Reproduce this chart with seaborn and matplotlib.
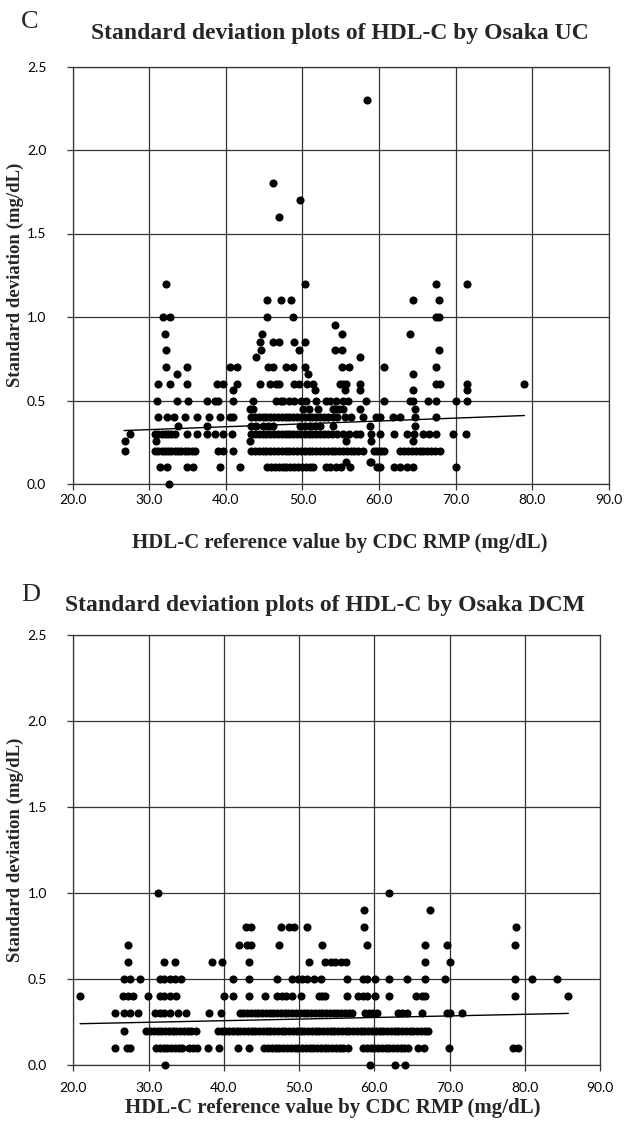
import numpy as np
import pandas as pd
import matplotlib
matplotlib.use("Agg")
import matplotlib.pyplot as plt
import seaborn as sns

# ---------------- data ----------------
x_ticks = [20, 30, 40, 50, 60, 70, 80, 90]
x_tick_labels = ["20.0", "30.0", "40.0", "50.0", "60.0", "70.0", "80.0", "90.0"]
y_ticks = [0.0, 0.5, 1.0, 1.5, 2.0, 2.5]
y_tick_labels = ["0.0", "0.5", "1.0", "1.5", "2.0", "2.5"]

# Panel C: Osaka UC -- reference values (x) grouped by SD level (y)
uc_00 = [32.6]
uc_01 = [31.4, 32.3, 34.9, 35.7, 39.3, 41.9, 45.4, 45.9, 46.4, 46.9, 47.4, 47.9, 48.4, 48.9,
         49.4, 50.0, 50.5, 51.0, 51.4, 53.1, 53.6, 54.4, 55.0, 56.2, 59.7, 60.1, 61.9, 62.8,
         63.6, 64.5, 70.1]
uc_013 = [55.7, 58.8, 59.0]
uc_02 = [26.8, 30.7, 31.2, 31.6, 32.1, 32.5, 32.9, 33.3, 33.8, 34.2, 34.7, 35.1, 35.6, 36.0,
         39.0, 39.6, 41.0, 43.3, 43.8, 44.3, 44.8, 45.3, 45.8, 46.3, 46.8, 47.3, 47.8, 48.3,
         48.8, 49.3, 49.8, 50.3, 50.8, 51.3, 51.8, 52.3, 52.8, 53.3, 53.8, 54.3, 54.8, 55.3,
         55.8, 56.3, 56.8, 57.3, 57.9, 59.3, 59.7, 60.2, 60.6, 62.8, 63.3, 63.8, 64.3, 64.8,
         65.3, 65.8, 66.3, 66.8, 67.3, 68.0]
uc_025 = [26.8, 30.9, 43.1, 55.7, 59.0, 64.5]
uc_03 = [27.5, 30.7, 31.2, 31.6, 32.1, 32.5, 32.9, 33.3, 34.9, 36.2, 37.5, 38.6, 39.6, 40.8,
         43.3, 43.8, 44.3, 44.8, 45.3, 45.8, 46.3, 46.8, 47.3, 47.8, 48.3, 48.8, 49.3, 49.8,
         50.3, 50.8, 51.3, 51.8, 52.3, 52.8, 53.3, 53.8, 54.5, 55.3, 56.1, 57.0, 57.5, 59.0,
         60.1, 62.0, 63.7, 64.6, 65.7, 66.5, 67.5, 69.7, 71.4]
uc_035 = [33.8, 37.5, 43.3, 44.0, 44.8, 45.5, 46.2, 49.7, 50.3, 51.0, 51.6, 52.3, 54.0, 58.8,
          64.7]
uc_04 = [31.2, 32.3, 33.2, 34.7, 36.2, 37.8, 39.3, 40.6, 41.0, 43.3, 43.8, 44.3, 44.8, 45.3,
         45.8, 46.3, 46.8, 47.3, 47.8, 48.3, 48.8, 49.3, 49.8, 50.3, 50.8, 51.3, 51.8, 52.3,
         52.8, 53.3, 54.0, 54.5, 55.5, 56.3, 57.9, 59.6, 60.1, 61.8, 62.7, 64.7, 67.5]
uc_045 = [43.2, 43.5, 50.1, 50.9, 52.0, 54.0, 54.2, 54.8, 55.3, 57.5, 64.7]
uc_05 = [31.0, 33.6, 35.1, 37.5, 38.6, 39.0, 41.0, 43.6, 46.6, 47.2, 47.5, 48.2, 48.9, 49.8,
         50.5, 51.8, 53.1, 53.6, 54.4, 55.3, 56.0, 58.3, 60.6, 64.1, 64.5, 66.4, 67.5, 70.1,
         71.5]
uc_055 = [41.0, 51.6, 55.5, 57.5, 64.5, 71.5]
uc_06 = [31.1, 32.7, 34.9, 38.8, 39.6, 41.5, 44.5, 45.8, 46.6, 47.0, 48.9, 49.5, 50.6, 51.4,
         54.9, 55.3, 55.7, 57.5, 67.5, 68.0, 71.5, 78.9]
uc_065 = [33.6, 50.7, 64.5]
uc_07 = [32.2, 34.9, 40.5, 41.5, 45.5, 46.1, 47.9, 48.8, 50.3, 55.2, 56.1, 60.6, 67.5]
uc_075 = [43.9, 57.5]
uc_08 = [32.2, 44.6, 49.6, 54.3, 55.2, 67.8]
uc_085 = [44.5, 46.1, 47.0, 48.9, 50.3]
uc_09 = [32.0, 44.7, 55.2, 64.1]
uc_095 = [54.2]
uc_10 = [31.8, 32.7, 45.4, 48.8, 67.5, 67.8]
uc_11 = [45.4, 47.2, 48.5, 64.5, 67.8]
uc_12 = [32.2, 50.3, 67.5, 71.5]
uc_16 = [46.9]
uc_17 = [49.7]
uc_18 = [46.2]
uc_23 = [58.5]
uc_trend_x = [26.7, 79.0]
uc_trend_y = [0.32, 0.41]

# Panel D: Osaka DCM
dcm_00 = [32.2, 59.4, 62.8, 64.1]
dcm_01 = [25.5, 27.1, 27.5, 31.0, 31.5, 32.0, 32.5, 33.0, 33.5, 34.0, 34.5, 35.4, 35.9, 36.5,
          37.9, 39.4, 41.9, 43.4, 45.4, 45.9, 46.4, 46.9, 47.4, 47.9, 48.4, 48.9, 49.4, 49.9,
          50.4, 50.9, 51.4, 51.9, 52.4, 52.9, 53.4, 53.9, 54.4, 54.9, 55.4, 55.9, 56.5, 58.5,
          59.0, 59.5, 60.0, 60.5, 61.0, 61.5, 62.0, 62.5, 63.0, 63.5, 64.0, 64.5, 65.8, 66.6,
          69.9, 78.5, 79.1]
dcm_02 = [26.8, 29.7, 30.2, 30.7, 31.2, 31.7, 32.2, 32.7, 33.2, 33.7, 34.2, 34.7, 35.2, 35.6,
          36.3, 39.2, 39.7, 40.2, 40.7, 41.2, 41.7, 42.2, 42.7, 43.2, 43.7, 44.2, 44.7, 45.2,
          45.7, 46.2, 46.7, 47.2, 47.7, 48.2, 48.7, 49.2, 49.7, 50.2, 50.7, 51.2, 51.7, 52.2,
          52.7, 53.2, 53.7, 54.2, 54.7, 55.2, 55.7, 56.2, 56.7, 57.2, 57.7, 58.2, 58.7, 59.2,
          59.7, 60.2, 60.7, 61.2, 61.7, 62.2, 62.7, 63.2, 63.7, 64.2, 64.7, 65.2, 65.7, 66.2,
          66.7, 67.2]
dcm_03 = [25.5, 26.8, 27.5, 28.6, 30.8, 31.5, 32.1, 32.8, 33.9, 35.0, 38.1, 39.6, 42.1, 42.6,
          43.1, 43.6, 44.1, 44.6, 45.1, 45.6, 46.1, 46.6, 47.1, 47.6, 48.1, 48.6, 49.1, 49.6,
          50.1, 50.6, 51.1, 51.6, 52.1, 52.6, 53.1, 53.6, 54.1, 54.6, 55.1, 55.6, 56.1, 56.6,
          57.1, 58.8, 59.3, 59.8, 60.4, 63.2, 63.7, 64.3, 66.3, 69.6, 70.0, 71.6]
dcm_04 = [20.9, 26.6, 27.3, 27.9, 29.9, 31.5, 32.1, 32.8, 33.7, 40.0, 41.2, 43.3, 45.5, 47.1,
          47.8, 48.3, 49.1, 50.3, 52.7, 53.1, 53.5, 56.4, 57.8, 58.5, 59.1, 60.1, 61.9, 65.6,
          66.3, 66.8, 78.7, 85.7]
dcm_05 = [26.8, 27.5, 28.8, 31.5, 32.1, 32.8, 33.5, 34.3, 41.2, 43.4, 47.1, 49.1, 49.8, 50.4,
          51.0, 52.0, 52.9, 56.4, 58.5, 59.0, 60.1, 61.9, 64.3, 66.7, 69.4, 78.7, 81.0, 84.3]
dcm_06 = [27.3, 32.0, 33.5, 38.5, 39.8, 43.3, 51.3, 53.5, 54.2, 54.8, 55.6, 56.3, 66.7, 70.0]
dcm_07 = [27.3, 42.0, 43.1, 43.6, 47.3, 53.1, 59.0, 66.7, 69.6, 78.7]
dcm_08 = [42.9, 43.6, 47.6, 48.7, 49.3, 51.1, 58.7, 78.8]
dcm_09 = [58.7, 67.4]
dcm_10 = [31.2, 61.9]
dcm_trend_x = [20.9, 85.8]
dcm_trend_y = [0.24, 0.30]

uc_levels = [(0.0, uc_00), (0.1, uc_01), (0.13, uc_013), (0.2, uc_02), (0.26, uc_025),
             (0.3, uc_03), (0.35, uc_035), (0.4, uc_04), (0.45, uc_045), (0.5, uc_05),
             (0.56, uc_055), (0.6, uc_06), (0.66, uc_065), (0.7, uc_07), (0.76, uc_075),
             (0.8, uc_08), (0.85, uc_085), (0.9, uc_09), (0.95, uc_095), (1.0, uc_10),
             (1.1, uc_11), (1.2, uc_12), (1.6, uc_16), (1.7, uc_17), (1.8, uc_18), (2.3, uc_23)]
dcm_levels = [(0.0, dcm_00), (0.1, dcm_01), (0.2, dcm_02), (0.3, dcm_03), (0.4, dcm_04),
              (0.5, dcm_05), (0.6, dcm_06), (0.7, dcm_07), (0.8, dcm_08), (0.9, dcm_09),
              (1.0, dcm_10)]

df_uc = pd.DataFrame([(x, sd) for sd, xs in uc_levels for x in xs], columns=["ref", "sd"])
df_dcm = pd.DataFrame([(x, sd) for sd, xs in dcm_levels for x in xs], columns=["ref", "sd"])
tr_uc = pd.DataFrame({"ref": uc_trend_x, "sd": uc_trend_y})
tr_dcm = pd.DataFrame({"ref": dcm_trend_x, "sd": dcm_trend_y})

# ---------------- figure ----------------
sns.set_theme(style="white")
plt.rcParams['font.family'] = ['Lato', 'DejaVu Sans']
SERIF = ['Liberation Serif', 'DejaVu Serif']

W, H = 624, 1127
fig = plt.figure(figsize=(W / 100, H / 100), dpi=100)


def px_ax(l, r, t, b):
    return [l / W, 1 - b / H, (r - l) / W, (b - t) / H]


ax1 = fig.add_axes(px_ax(72.7, 608.7, 66.5, 484))
ax2 = fig.add_axes(px_ax(73.3, 600.0, 635, 1065))

GRID = "#333333"
for ax, df, tr, xpad in ((ax1, df_uc, tr_uc, 3), (ax2, df_dcm, tr_dcm, 8)):
    sns.scatterplot(data=df, x="ref", y="sd", ax=ax, color="black", s=34,
                    linewidth=0, clip_on=False, zorder=3)
    sns.lineplot(data=tr, x="ref", y="sd", ax=ax, color="black", linewidth=1.0, zorder=4)
    ax.set_xlim(20, 90)
    ax.set_ylim(0, 2.5)
    ax.set_xticks(x_ticks)
    ax.set_xticklabels(x_tick_labels)
    ax.set_yticks(y_ticks)
    ax.set_yticklabels(y_tick_labels)
    ax.grid(True, color=GRID, linewidth=0.9)
    ax.set_axisbelow(True)
    for s in ax.spines.values():
        s.set_color(GRID)
        s.set_linewidth(0.9)
    ax.tick_params(axis="both", which="major", bottom=True, left=True, direction="out",
                   length=4, width=0.9, color=GRID, labelsize=10, labelcolor="black")
    ax.tick_params(axis="y", pad=15)
    ax.tick_params(axis="x", pad=xpad)
    ax.set_xlabel("")
    ax.set_ylabel("")


def ftext(x, y, s, **kw):
    fig.text(x / W, 1 - y / H, s, **kw)


ftext(30, 22, "C", fontsize=19, family=SERIF, ha="center", va="center")
ftext(340, 33, "Standard deviation plots of HDL-C by Osaka UC", fontsize=17,
      fontweight="bold", family=SERIF, ha="center", va="center")
ftext(15, 275, "Standard deviation (mg/dL)", fontsize=13.5, fontweight="bold",
      family=SERIF, rotation=90, ha="center", va="center")
ftext(340, 543, "HDL-C reference value by CDC RMP (mg/dL)", fontsize=15,
      fontweight="bold", family=SERIF, ha="center", va="center")

ftext(31, 595, "D", fontsize=19, family=SERIF, ha="center", va="center")
ftext(325, 605, "Standard deviation plots of HDL-C by Osaka DCM", fontsize=17,
      fontweight="bold", family=SERIF, ha="center", va="center")
ftext(15, 850, "Standard deviation (mg/dL)", fontsize=13.5, fontweight="bold",
      family=SERIF, rotation=90, ha="center", va="center")
ftext(333, 1108, "HDL-C reference value by CDC RMP (mg/dL)", fontsize=15,
      fontweight="bold", family=SERIF, ha="center", va="center")

fig.savefig("out.png", dpi=100, facecolor="white")
